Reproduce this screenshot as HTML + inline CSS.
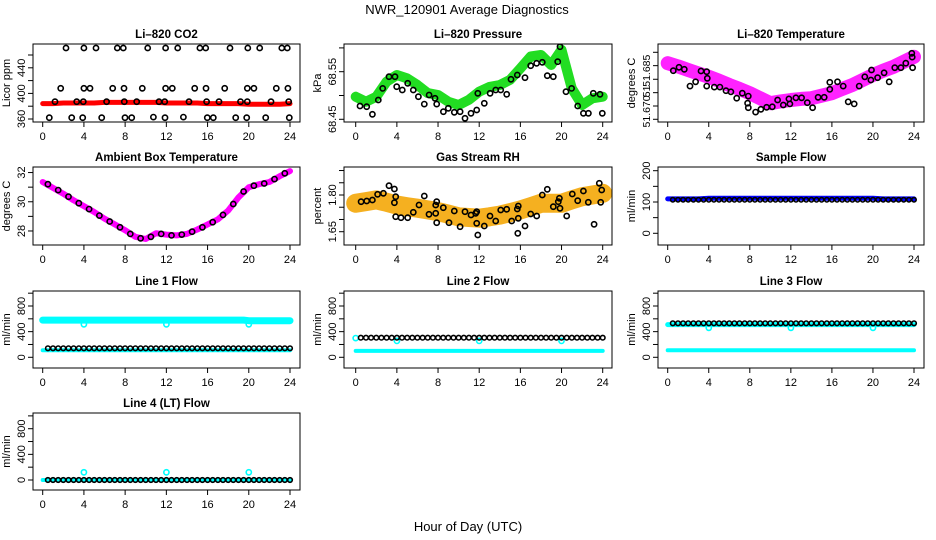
<!DOCTYPE html>
<html><head><meta charset="utf-8">
<style>
html,body{margin:0;padding:0;background:#fff;}
svg{display:block;font-family:"Liberation Sans",Arial,sans-serif;}
</style></head>
<body>
<svg id="chart" width="936" height="540" viewBox="0 0 936 540" xmlns="http://www.w3.org/2000/svg">
<text x="467" y="14" text-anchor="middle" font-size="13">NWR_120901  Average Diagnostics</text>
<text x="468" y="531" text-anchor="middle" font-size="13">Hour of Day (UTC)</text>
</svg>
<script>
// ---------- categories ----------
const hours25=[0,1,2,3,4,5,6,7,8,9,10,11,12,13,14,15,16,17,18,19,20,21,22,23,24];
const halfHours=[0,0.5,1,1.5,2,2.5,3,3.5,4,4.5,5,5.5,6,6.5,7,7.5,8,8.5,9,9.5,10,10.5,11,11.5,12,12.5,13,13.5,14,14.5,15,15.5,16,16.5,17,17.5,18,18.5,19,19.5,20,20.5,21,21.5,22,22.5,23,23.5,24];
const halfHoursFrom05=[0.5,1,1.5,2,2.5,3,3.5,4,4.5,5,5.5,6,6.5,7,7.5,8,8.5,9,9.5,10,10.5,11,11.5,12,12.5,13,13.5,14,14.5,15,15.5,16,16.5,17,17.5,18,18.5,19,19.5,20,20.5,21,21.5,22,22.5,23,23.5,24];
const xTicks=[0,4,8,12,16,20,24];
const dipHours=[4,12,20];

// ---------- CO2 ----------
const co2Red=[384,384,385,385,385,385,386,386,386,386,386,386,385,385,385,385,384,384,384,384,383,383,383,383,384];
const co2TopHours=[2.26,4.0,5.17,7.24,7.82,10.19,11.93,13.1,15.26,15.82,18.18,19.9,21.06,23.2,23.74];
const co2TopVals=[471,471,471,471,471,471,471,471,471,471,471,471,471,471,471];
const co2MidHours=[1.75,4.0,4.59,6.79,7.89,9.67,11.93,12.58,14.75,15.85,17.66,19.86,20.5,22.67,23.8];
const co2MidVals=[408,408,408,408,408,408,408,408,408,408,408,408,408,408,408];
const co2LowHours=[1.19,3.3,3.94,6.2,7.92,9.12,11.29,11.84,14.2,15.91,17.11,19.2,19.86,22.16,23.87];
const co2LowVals=[387,387,387,387,387,387,387,387,387,387,387,387,387,387,387];
const co2BotHours=[0.64,2.81,3.88,5.73,7.99,8.64,10.74,11.87,13.65,15.97,16.56,18.73,19.8,21.64,23.93];
const co2BotVals=[362,362,362,362,362,362,363,362,363,362,362,362,362,362,362];

// ---------- Pressure ----------
const presGreen=[68.4975,68.487,68.4975,68.529,68.543,68.536,68.522,68.505,68.501,68.487,68.480,68.491,68.508,68.518,68.522,68.533,68.557,68.582,68.585,68.564,68.596,68.515,68.480,68.494,68.4975];
const presBlackHours=[0.42,1.07,1.62,2.2,2.62,3.24,3.82,3.98,4.53,5.05,5.6,6.09,6.67,7.13,7.71,7.87,8.52,9.0,9.58,10.14,10.62,11.2,11.76,11.86,12.5,13.06,13.6,14.09,14.67,15.09,15.7,16.45,17.0,17.58,18.13,18.62,19.2,19.63,19.85,20.43,20.98,21.57,22.12,22.61,23.09,23.74,23.96];
const presBlackVals=[68.478,68.4765,68.4605,68.4905,68.515,68.5395,68.5395,68.5185,68.5115,68.5256,68.5115,68.4975,68.482,68.501,68.494,68.482,68.466,68.473,68.4647,68.466,68.452,68.4626,68.4695,68.5046,68.4836,68.5046,68.5115,68.5115,68.5025,68.534,68.543,68.5374,68.5626,68.5676,68.5697,68.5416,68.5395,68.571,68.6025,68.508,68.515,68.478,68.4626,68.4626,68.5046,68.5025,68.4626];

// ---------- Li-820 temperature ----------
const tempMag=[51.6857,51.6848,51.6838,51.6828,51.6819,51.6808,51.6796,51.6785,51.6773,51.6759,51.6745,51.6750,51.6754,51.6757,51.6759,51.6766,51.6773,51.6785,51.6796,51.6810,51.6824,51.6836,51.6847,51.6861,51.6875];
const tempBlackHours=[0.55,1.1,1.62,2.17,2.72,3.24,3.8,3.86,3.8,4.54,5.09,5.68,6.16,6.72,7.27,7.85,7.79,7.85,8.57,9.08,9.64,10.19,10.71,11.26,11.81,11.91,12.49,13.05,13.6,14.12,14.66,15.25,15.8,15.8,16.55,17.1,17.59,18.17,18.66,19.21,19.86,19.8,20.45,21.09,21.58,22.13,22.72,23.2,23.79,23.82,23.86];
const tempBlackVals=[51.6836,51.68455,51.684,51.6793,51.6805,51.68352,51.68333,51.68147,51.6793,51.679,51.679,51.678,51.6777,51.6759,51.6773,51.6765,51.6745,51.67325,51.672,51.6728,51.67336,51.6735,51.6754,51.674,51.6757,51.6743,51.676,51.676,51.67465,51.67325,51.67616,51.67616,51.6784,51.68035,51.6805,51.6793,51.6749,51.6743,51.6793,51.6819,51.6838,51.681,51.68165,51.683,51.6805,51.68444,51.68444,51.6857,51.68847,51.6874,51.68444];

// ---------- Ambient box temperature ----------
const ambMag=[31.35,30.95,30.55,30.1,29.7,29.3,28.85,28.45,28.05,27.6,27.45,27.85,27.75,27.7,27.8,28.1,28.45,28.8,29.4,30.3,31.0,31.2,31.35,31.75,32.1];
const ambBlack=[31.2,30.8,30.35,29.9,29.5,29.05,28.65,28.25,27.8,27.5,27.6,27.8,27.7,27.75,27.95,28.25,28.6,29.1,29.85,30.7,31.1,31.25,31.55,31.95];
const ambBlackHours=[0.5,1.5,2.5,3.5,4.5,5.5,6.5,7.5,8.5,9.5,10.5,11.5,12.5,13.5,14.5,15.5,16.5,17.5,18.5,19.5,20.5,21.5,22.5,23.5];

// ---------- Gas stream RH ----------
const rhBand=[1.766,1.773,1.780,1.770,1.759,1.752,1.746,1.739,1.732,1.722,1.711,1.708,1.705,1.711,1.718,1.728,1.739,1.752,1.766,1.766,1.766,1.780,1.793,1.800,1.807];
const rhBlackHours=[0.52,1.07,1.62,2.13,2.69,3.24,3.76,3.89,3.76,3.89,4.4,5.05,5.6,6.15,6.67,7.12,7.77,7.77,7.87,7.87,8.51,9.07,9.58,10.14,10.62,11.2,11.66,11.76,11.76,11.86,12.5,13.05,13.6,14.09,14.67,15.16,15.7,15.8,15.8,15.75,16.45,17.0,17.59,18.13,18.62,19.2,19.69,19.79,19.85,20.5,21.05,21.57,22.12,22.6,23.16,23.67,23.81,23.9];
const rhBlackVals=[1.7726,1.7755,1.7795,1.8028,1.8069,1.838,1.8245,1.793,1.7685,1.7113,1.7072,1.7072,1.7293,1.7591,1.7959,1.7211,1.7252,1.7591,1.7726,1.6868,1.748,1.6868,1.7346,1.6704,1.7317,1.7182,1.7252,1.7317,1.6843,1.6365,1.6733,1.7142,1.6937,1.7387,1.7415,1.6937,1.7428,1.755,1.7048,1.6435,1.6733,1.7223,1.7142,1.8,1.8233,1.7522,1.7726,1.7865,1.7456,1.7142,1.804,1.7767,1.8163,1.7701,1.6802,1.8478,1.7701,1.8204];

// ---------- Sample flow ----------
const sampleBlue=[110,110,110,110,112,112,112,112,112,112,112,112,112,112,112,112,112,112,112,112,112,110,110,110,110];
const sampleBlack=[107,107,107,107,107,107,107,107,107,107,107,107,107,107,107,107,107,107,107,107,107,107,107,107,107,107,107,107,107,107,107,107,107,107,107,107,107,107,107,107,107,107,107,107,107,107,107,107];

// ---------- Line flows ----------
const line1CyanHigh=[580,580,580,580,580,580,580,580,580,580,580,580,580,580,580,580,580,580,580,580,580,580,580,580,580,580,580,580,580,580,580,580,580,580,580,580,580,580,580,580,570,570,570,570,570,570,570,570,570];
const line1CyanLow=[110,110,110,110,110,110,110,110,110,110,110,110,110,110,110,110,110,110,110,110,110,110,110,110,110,110,110,110,110,110,110,110,110,110,110,110,110,110,110,110,110,110,110,110,110,110,110,110,110];
const line1Black=[140,140,140,140,140,140,140,140,140,140,140,140,140,140,140,140,140,140,140,140,140,140,140,140,140,140,140,140,140,140,140,140,140,140,140,140,140,140,140,140,140,140,140,140,140,140,140,140];
const line1Dips=[515,515,515];

const line2CyanLow=[100,100,100,100,100,100,100,100,100,100,100,100,100,100,100,100,100,100,100,100,100,100,100,100,100,100,100,100,100,100,100,100,100,100,100,100,100,100,100,100,100,100,100,100,100,100,100,100,100];
const line2Black=[305,305,305,305,305,305,305,305,305,305,305,305,305,305,305,305,305,305,305,305,305,305,305,305,305,305,305,305,305,305,305,305,305,305,305,305,305,305,305,305,305,305,305,305,305,305,305,305];
const line2Dips=[255,255,255];
const line2Start=[300];

const line3CyanHigh=[510,510,510,510,510,510,510,510,510,510,510,510,510,510,510,510,510,510,510,510,510,510,510,510,510,510,510,510,510,510,510,510,510,510,510,510,510,510,510,510,510,510,510,510,510,510,510,510,510];
const line3CyanLow=[110,110,110,110,110,110,110,110,110,110,110,110,110,110,110,110,110,110,110,110,110,110,110,110,110,110,110,110,110,110,110,110,110,110,110,110,110,110,110,110,110,110,110,110,110,110,110,110,110];
const line3Black=[530,530,530,530,530,530,530,530,530,530,530,530,530,530,530,530,530,530,530,530,530,530,530,530,530,530,530,530,530,530,530,530,530,530,530,530,530,530,530,530,530,530,530,530,530,530,530,530];
const line3Dips=[460,460,460];

const line4Cyan=[0,0,0,0,0,0,0,0,0,0,0,0,0,0,0,0,0,0,0,0,0,0,0,0,0,0,0,0,0,0,0,0,0,0,0,0,0,0,0,0,0,0,0,0,0,0,0,0,0];
const line4Black=[0,0,0,0,0,0,0,0,0,0,0,0,0,0,0,0,0,0,0,0,0,0,0,0,0,0,0,0,0,0,0,0,0,0,0,0,0,0,0,0,0,0,0,0,0,0,0,0];
const line4Spikes=[120,120,120];

// ---------- drawing ----------
const NS='http://www.w3.org/2000/svg';
const svg=document.getElementById('chart');
const cols=[{bx0:33,bx1:300,x0:42.7,x1:290},{bx0:344,bx1:612,x0:355.7,x1:602.7},{bx0:658,bx1:924,x0:667.7,x1:914}];
const rows=[{by0:44,by1:122},{by0:167,by1:245},{by0:291,by1:368},{by0:413,by1:490}];
function mk(tag,attrs,parent){const e=document.createElementNS(NS,tag);for(const k in attrs)e.setAttribute(k,attrs[k]);(parent||svg).appendChild(e);return e;}
let clipId=0;

function panel(p){
  const c=cols[p.col],r=rows[p.row];
  const g=mk('g',{});
  
  
  const xs=h=>c.x0+(h/24)*(c.x1-c.x0);
  const ys=v=>r.by1-(v-p.ylo)/(p.yhi-p.ylo)*(r.by1-r.by0);
  const t=mk('text',{x:(c.bx0+c.bx1)/2,y:r.by0-6,'text-anchor':'middle','font-size':'11.5','font-weight':'bold'},g);
  t.textContent=p.title;
  
  
  const yl=mk('text',{x:0,y:0,'text-anchor':'middle','font-size':'11',transform:`translate(${c.bx0-23},${(r.by0+r.by1)/2}) rotate(-90)`},g);
  yl.textContent=p.ylab;
  
  
  const id='clip'+(clipId++);
  const cp=mk('clipPath',{id},g);
  mk('rect',{x:c.bx0,y:r.by0,width:c.bx1-c.bx0,height:r.by1-r.by0},cp);
  const plot=mk('g',{'clip-path':`url(#${id})`},g);
  
  
  p.series.forEach(s=>{
    const sg=mk('g',{},plot);
    
    
    if(s.type==='band'){
      const pts=s.xs.map((h,i)=>xs(h).toFixed(1)+','+ys(s.ys[i]).toFixed(1)).join(' ');
      const pl=mk('polyline',{points:pts,fill:'none',stroke:s.color,'stroke-width':s.w,'stroke-linejoin':'round','stroke-linecap':'round'},sg);
      
      
    } else {
      s.xs.forEach((h,i)=>{
        const ci=mk('circle',{cx:xs(h).toFixed(1),cy:ys(s.ys[i]).toFixed(1),r:s.r||2.6,fill:s.fill||'none',stroke:s.color,'stroke-width':s.sw||1.6},sg);
        
        
      });
    }
  });
  const bx=mk('rect',{x:c.bx0,y:r.by0,width:c.bx1-c.bx0,height:r.by1-r.by0,fill:'none',stroke:'#000','stroke-width':1},g);
  
  
  xTicks.forEach(h=>{
    const x=xs(h);
    const tk=mk('line',{x1:x,x2:x,y1:r.by1,y2:r.by1+5,stroke:'#000'},g);
    
    
    const lb=mk('text',{x:x,y:r.by1+18,'text-anchor':'middle','font-size':'11'},g);
    lb.textContent=String(h);
    
    
  });
  p.yticks.forEach(v=>{
    const y=ys(v);
    const tk=mk('line',{x1:c.bx0-5,x2:c.bx0,y1:y,y2:y,stroke:'#000'},g);
    
    
  });
  p.ylabelVals.forEach((v,i)=>{
    const y=ys(v);
    const lb=mk('text',{x:0,y:0,'text-anchor':'middle','font-size':p.ylfs||'11',transform:`translate(${c.bx0-8},${y}) rotate(-90)`},g);
    lb.textContent=p.ylabelText[i];
    
    
  });
}

const BLACK='#000';
panel({name:'li820-co2',col:0,row:0,title:'Li\u2013820 CO2',ylab:'Licor ppm',ylo:355.3,yhi:477.2,
  yticks:[360,380,400,420,440,460],ylabelVals:[360,400,440],ylabelText:['360','400','440'],
  series:[
    {name:'co2-red-series',type:'band',xs:hours25,ys:co2Red,color:'#ff0000',w:5},
    {name:'co2-top-points',type:'pts',xs:co2TopHours,ys:co2TopVals,color:BLACK},
    {name:'co2-mid-points',type:'pts',xs:co2MidHours,ys:co2MidVals,color:BLACK},
    {name:'co2-low-points',type:'pts',xs:co2LowHours,ys:co2LowVals,color:BLACK},
    {name:'co2-bottom-points',type:'pts',xs:co2BotHours,ys:co2BotVals,color:BLACK}]});
panel({name:'li820-pressure',col:1,row:0,title:'Li\u2013820 Pressure',ylab:'kPa',ylo:68.4443,yhi:68.6082,
  yticks:[68.45,68.50,68.55,68.60],ylabelVals:[68.45,68.55],ylabelText:['68.45','68.55'],
  series:[
    {name:'pressure-green-series',type:'band',xs:hours25,ys:presGreen,color:'#22dd22',w:10},
    {name:'pressure-black-points',type:'pts',xs:presBlackHours,ys:presBlackVals,color:BLACK}]});
panel({name:'li820-temperature',col:2,row:0,title:'Li\u2013820 Temperature',ylab:'degrees C',ylo:51.66924,yhi:51.69107,ylfs:'10.5',
  yticks:[51.670,51.67372,51.67745,51.6812,51.68501,51.68875],ylabelVals:[51.6722,51.6778,51.6836],ylabelText:['51.670','51','51.685'],
  series:[
    {name:'temperature-magenta-series',type:'band',xs:hours25,ys:tempMag,color:'#ff22ff',w:14},
    {name:'temperature-black-points',type:'pts',xs:tempBlackHours,ys:tempBlackVals,color:BLACK}]});
panel({name:'ambient-box-temperature',col:0,row:1,title:'Ambient Box Temperature',ylab:'degrees C',ylo:27.04,yhi:32.38,
  yticks:[28,29,30,31,32],ylabelVals:[28,30,32],ylabelText:['28','30','32'],
  series:[
    {name:'ambient-magenta-series',type:'band',xs:hours25,ys:ambMag,color:'#ff00ff',w:6},
    {name:'ambient-black-points',type:'pts',xs:ambBlackHours,ys:ambBlack,color:BLACK}]});
panel({name:'gas-stream-rh',col:1,row:1,title:'Gas Stream RH',ylab:'percent',ylo:1.5957,yhi:1.9144,
  yticks:[1.65,1.70,1.75,1.80,1.85,1.90],ylabelVals:[1.65,1.80],ylabelText:['1.65','1.80'],
  series:[
    {name:'rh-orange-series',type:'band',xs:hours25,ys:rhBand,color:'#f5b020',w:19},
    {name:'rh-black-points',type:'pts',xs:rhBlackHours,ys:rhBlackVals,color:BLACK}]});
panel({name:'sample-flow',col:2,row:1,title:'Sample Flow',ylab:'ml/min',ylo:-37.4,yhi:211.8,
  yticks:[0,50,100,150,200],ylabelVals:[0,100,200],ylabelText:['0','100','200'],
  series:[
    {name:'sample-blue-series',type:'band',xs:hours25,ys:sampleBlue,color:'#0000ff',w:5},
    {name:'sample-black-points',type:'pts',xs:halfHoursFrom05,ys:sampleBlack,color:BLACK,r:2.2}]});
const flowTicks=[0,200,400,600,800,1000];
panel({name:'line-1-flow',col:0,row:2,title:'Line 1 Flow',ylab:'ml/min',ylo:-167,yhi:1034,
  yticks:flowTicks,ylabelVals:[0,400,800],ylabelText:['0','400','800'],
  series:[
    {name:'line1-cyan-high-series',type:'band',xs:halfHours,ys:line1CyanHigh,color:'#00ffff',w:7},
    {name:'line1-cyan-dips',type:'pts',xs:dipHours,ys:line1Dips,color:'#00ffff'},
    {name:'line1-cyan-low-series',type:'band',xs:halfHours,ys:line1CyanLow,color:'#00ffff',w:4},
    {name:'line1-black-points',type:'pts',xs:halfHoursFrom05,ys:line1Black,color:BLACK,r:2.3}]});
panel({name:'line-2-flow',col:1,row:2,title:'Line 2 Flow',ylab:'ml/min',ylo:-167,yhi:1034,
  yticks:flowTicks,ylabelVals:[0,400,800],ylabelText:['0','400','800'],
  series:[
    {name:'line2-cyan-low-series',type:'band',xs:halfHours,ys:line2CyanLow,color:'#00ffff',w:4},
    {name:'line2-cyan-dips',type:'pts',xs:dipHours,ys:line2Dips,color:'#00ffff'},
    {name:'line2-cyan-start',type:'pts',xs:[0],ys:line2Start,color:'#00ffff'},
    {name:'line2-black-points',type:'pts',xs:halfHoursFrom05,ys:line2Black,color:BLACK,r:2.3}]});
panel({name:'line-3-flow',col:2,row:2,title:'Line 3 Flow',ylab:'ml/min',ylo:-167,yhi:1034,
  yticks:flowTicks,ylabelVals:[0,400,800],ylabelText:['0','400','800'],
  series:[
    {name:'line3-cyan-high-series',type:'band',xs:halfHours,ys:line3CyanHigh,color:'#00ffff',w:5},
    {name:'line3-cyan-dips',type:'pts',xs:dipHours,ys:line3Dips,color:'#00ffff'},
    {name:'line3-cyan-low-series',type:'band',xs:halfHours,ys:line3CyanLow,color:'#00ffff',w:4},
    {name:'line3-black-points',type:'pts',xs:halfHoursFrom05,ys:line3Black,color:BLACK,r:2.3}]});
panel({name:'line-4-lt-flow',col:0,row:3,title:'Line 4 (LT) Flow',ylab:'ml/min',ylo:-156,yhi:1045,
  yticks:flowTicks,ylabelVals:[0,400,800],ylabelText:['0','400','800'],
  series:[
    {name:'line4-cyan-series',type:'band',xs:halfHours,ys:line4Cyan,color:'#00ffff',w:4},
    {name:'line4-cyan-spikes',type:'pts',xs:dipHours,ys:line4Spikes,color:'#00ffff'},
    {name:'line4-black-points',type:'pts',xs:halfHoursFrom05,ys:line4Black,color:BLACK,r:2.3}]});
</script>
</body></html>
